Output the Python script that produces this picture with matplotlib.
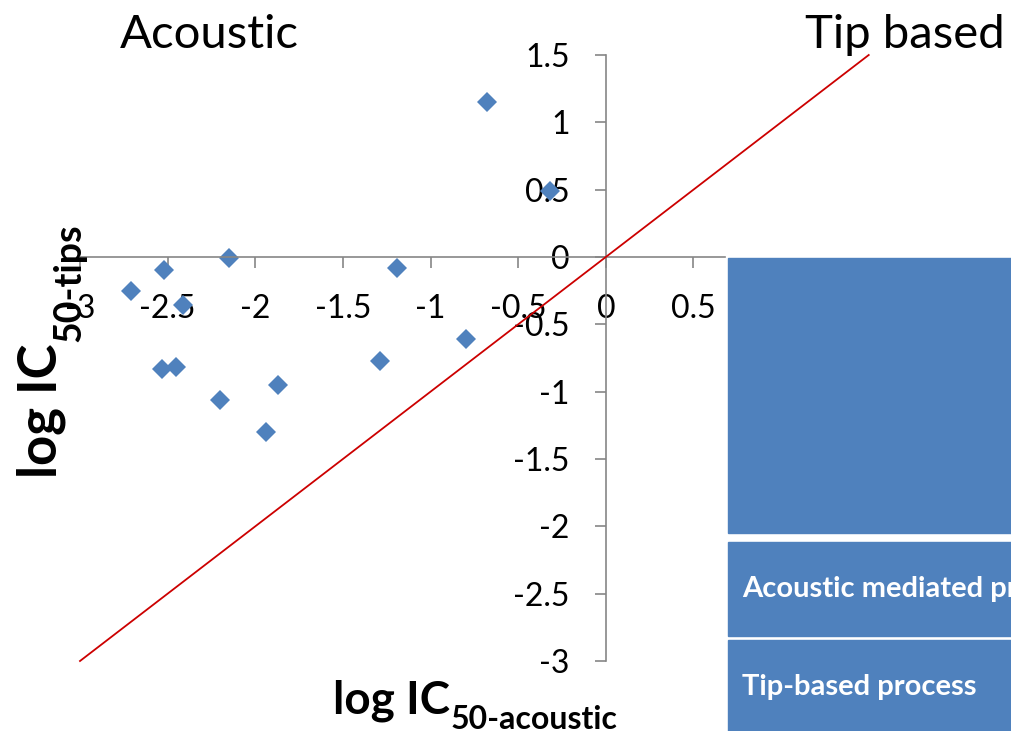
import numpy as np
import matplotlib
matplotlib.use('Agg')
import matplotlib.pyplot as plt
from matplotlib.patches import Rectangle

plt.rcParams['font.family'] = ['Lato', 'DejaVu Sans']
plt.rcParams['axes.unicode_minus'] = False

# 데이터 (log IC50 acoustic / tips)
log_ic50_acoustic = [-0.68, -0.32, -2.15, -2.52, -2.71, -2.41, -1.19, -0.80,
                     -1.29, -2.53, -2.45, -1.87, -2.20, -1.94]
log_ic50_tips = [1.15, 0.49, -0.01, -0.10, -0.25, -0.36, -0.08, -0.61,
                 -0.77, -0.83, -0.82, -0.95, -1.06, -1.30]
diag_x = [-3, 1.5]
diag_y = [-3, 1.5]
x_ticks = [-3, -2.5, -2, -1.5, -1, -0.5, 0, 0.5]
y_ticks = [-3, -2.5, -2, -1.5, -1, -0.5, 0, 0.5, 1, 1.5]
box_labels = ['', 'Acoustic mediated process', 'Tip-based process']

W, H = 1012, 731
fig = plt.figure(figsize=(W / 100, H / 100), dpi=100)

def fx(px):
    return px / W

def fy(py):
    return 1 - py / H

# 축 위치 (픽셀 기준)
x0, x1, y0, y1 = 80, 725, 55, 661
ax = fig.add_axes([fx(x0), fy(y1), fx(x1) - fx(x0), fy(y0) - fy(y1)])
ax.set_xlim(-3, 0.68)
ax.set_ylim(-3, 1.5)

ax.plot(log_ic50_acoustic, log_ic50_tips, 'D', color='#4F81BD', ms=10,
        markeredgewidth=0, zorder=2)
ax.plot(diag_x, diag_y, color='#CC0000', lw=1.3, clip_on=False, zorder=4)

# 원점에서 교차하는 축
for s in ['top', 'right']:
    ax.spines[s].set_visible(False)
ax.spines['left'].set_position(('data', 0))
ax.spines['bottom'].set_position(('data', 0))
for s in ['left', 'bottom']:
    ax.spines[s].set_color('#868686')
    ax.spines[s].set_linewidth(1.2)
ax.set_xticks(x_ticks)
ax.set_yticks(y_ticks)
ax.set_xticklabels([f'{v:g}' for v in x_ticks])
ax.set_yticklabels([f'{v:g}' for v in y_ticks])
ax.tick_params(axis='both', direction='out', length=8, width=1.2,
               color='#868686', labelsize=23, labelcolor='black')
ax.tick_params(axis='x', pad=19)
ax.tick_params(axis='y', pad=18)
for lab in ax.get_xticklabels() + ax.get_yticklabels():
    lab.set_zorder(3)

# 오른쪽 파란 상자
boxes = [(258, 533), (541.5, 636), (639.5, 731)]
for (top, bot), lab in zip(boxes, box_labels):
    fig.patches.append(Rectangle((fx(728), fy(bot)), fx(W) - fx(728), fy(top) - fy(bot),
                                 transform=fig.transFigure, color='#4F81BD', zorder=0))
fig.text(fx(742), fy(597), box_labels[1], color='white', fontsize=21,
         fontweight='bold', ha='left', va='baseline')
fig.text(fx(742), fy(695), box_labels[2], color='white', fontsize=21,
         fontweight='bold', ha='left', va='baseline')

# 상단 텍스트
fig.text(fx(120), fy(48), 'Acoustic', fontsize=34, ha='left', va='baseline')
fig.text(fx(805), fy(48), 'Tip based', fontsize=34, ha='left', va='baseline')

# 축 제목 (아래첨자 포함)
fig.canvas.draw()
r = fig.canvas.get_renderer()

t = fig.text(fx(333), fy(713), 'log IC', fontsize=33, fontweight='bold',
             ha='left', va='baseline')
w = t.get_window_extent(r).width
fig.text(fx(333 + w + 1), fy(729), '50-acoustic', fontsize=23,
         fontweight='bold', ha='left', va='baseline')

t2 = fig.text(fx(57), fy(478), 'log IC', fontsize=38, fontweight='bold',
              ha='left', va='baseline', rotation=90, rotation_mode='anchor')
h = t2.get_window_extent(r).height
fig.text(fx(80), fy(478 - h - 1), '50-tips', fontsize=27, fontweight='bold',
         ha='left', va='baseline', rotation=90, rotation_mode='anchor')

fig.savefig('out.png', dpi=100)
